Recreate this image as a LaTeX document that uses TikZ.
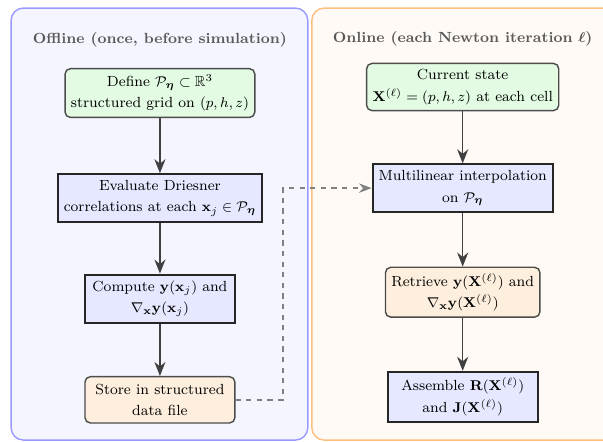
\documentclass[tikz,border=0pt]{standalone}
\usepackage{amsmath,amssymb,bm}
\usetikzlibrary{arrows.meta}

\definecolor{offfill}{HTML}{F5F5FF}
\definecolor{offline}{HTML}{9999FF}
\definecolor{onfill}{HTML}{FFFAF5}
\definecolor{online}{HTML}{FFBF80}
\definecolor{greenbox}{HTML}{E2FBE2}
\definecolor{bluebox}{HTML}{E6E8FF}
\definecolor{orangebox}{HTML}{FDEEDD}

\begin{document}
\begin{tikzpicture}[font=\fontsize{8.3}{12.2}\selectfont]

            \tikzstyle{panel} = [rounded corners=7pt, thick];
            \tikzstyle{paneltitle} = [text=black!65, font=\fontsize{8.3}{12.2}\selectfont\bfseries];
            \tikzstyle{inputnode} = [draw=black!70, thick, fill=greenbox, rounded corners=3pt, align=center, minimum height=0.92cm];
            \tikzstyle{computenode} = [draw=black!85, very thick, fill=bluebox, align=center, minimum height=0.92cm];
            \tikzstyle{datanode} = [draw=black!70, thick, fill=orangebox, rounded corners=3pt, align=center, minimum height=0.92cm];
            \tikzstyle{arrow} = [thick, draw=black!75, -{Stealth[length=2.8mm, width=2.2mm]}];
            \tikzstyle{dasharrow} = [thick, draw=black!50, dashed, -{Stealth[length=2.5mm]}];

            \useasboundingbox (0,0) rectangle (11.99,-8.77);

            % the two stages
            \draw[panel, draw=offline, fill=offfill] (0.22,-0.16) rectangle (6.12,-8.75);
            \draw[panel, draw=online, fill=onfill] (6.20,-0.16) rectangle (12.40,-8.75);

            \node[paneltitle] (offtitle) at (3.18,-0.80) {Offline (once, before simulation)};
            \node[paneltitle] (ontitle) at (9.20,-0.78) {Online (each Newton iteration $\bm{\ell}$)};

            % offline
            \node[inputnode, minimum width=3.70cm] (grid) at (3.18,-1.85) {Define $\mathcal{P}_{\bm{\eta}} \subset \mathbb{R}^3$\\ structured grid on $(p,h,z)$};
            \node[computenode, minimum width=3.98cm] (eval) at (3.18,-3.94) {Evaluate Driesner\\ correlations at each $\mathbf{x}_j \in \mathcal{P}_{\bm{\eta}}$};
            \node[computenode, minimum width=2.98cm] (comp) at (3.18,-5.94) {Compute $\mathbf{y}(\mathbf{x}_j)$ and\\ $\nabla_{\mathbf{x}}\mathbf{y}(\mathbf{x}_j)$};
            \node[datanode, minimum width=2.98cm] (store) at (3.18,-7.95) {Store in structured\\ data file};

            % online
            \node[inputnode, minimum width=3.74cm] (state) at (9.20,-1.73) {Current state\\ $\mathbf{X}^{(\ell)} = (p,h,z)$ at each cell};
            \node[computenode, minimum width=3.48cm] (interp) at (9.20,-3.74) {Multilinear interpolation\\ on $\mathcal{P}_{\bm{\eta}}$};
            \node[datanode, minimum width=2.98cm] (fetch) at (9.20,-5.81) {Retrieve $\mathbf{y}(\mathbf{X}^{(\ell)})$ and\\ $\nabla_{\mathbf{x}}\mathbf{y}(\mathbf{X}^{(\ell)})$};
            \node[computenode, minimum width=2.98cm] (assem) at (9.20,-7.89) {Assemble $\mathbf{R}(\mathbf{X}^{(\ell)})$\\ and $\mathbf{J}(\mathbf{X}^{(\ell)})$};

            \draw[arrow] (grid) -- (eval);
            \draw[arrow] (eval) -- (comp);
            \draw[arrow] (comp) -- (store);

            \draw[arrow] (state) -- (interp);
            \draw[arrow] (interp) -- (fetch);
            \draw[arrow] (fetch) -- (assem);

            \draw[dasharrow] (store.east) -- ++(0.94,0) |- (interp.west);

        \end{tikzpicture}
\end{document}
